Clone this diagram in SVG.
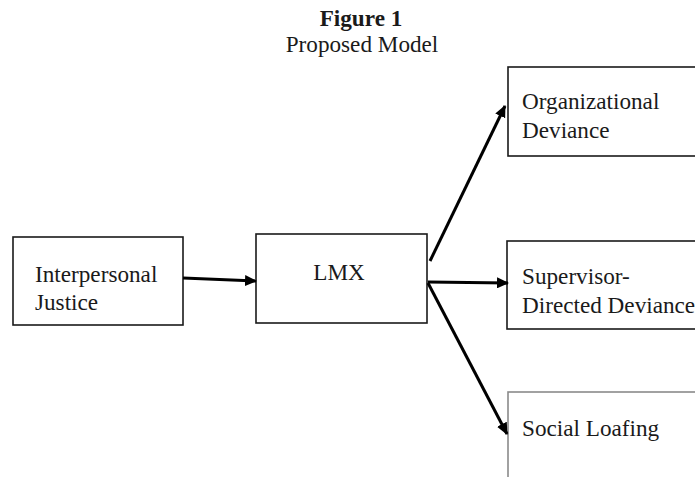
<svg xmlns="http://www.w3.org/2000/svg" width="695" height="477" viewBox="0 0 695 477">
<defs>
<style>
.box{fill:#fff;stroke:#1a1a1a;stroke-width:1.6}
.gbox{fill:#fff;stroke:#8a8a8a;stroke-width:1.6}
.t{font-family:"Liberation Serif","Times New Roman",serif;font-size:23.2px;fill:#1a1a1a}
.edge{stroke:#000;stroke-width:3;fill:none;marker-end:url(#ah)}
</style>
<marker id="ah" markerUnits="userSpaceOnUse" markerWidth="12" markerHeight="11" refX="11" refY="5.5" orient="auto">
<path d="M0,0 L12,5.5 L0,11 z" fill="#000"/>
</marker>
</defs>
<rect width="695" height="477" fill="#fff"/>
<g id="title">
<text class="t" x="361" y="26" text-anchor="middle" font-weight="bold">Figure 1</text>
<text class="t" x="362" y="52" text-anchor="middle">Proposed Model</text>
</g>
<g id="justice">
<rect class="box" x="13" y="237" width="170" height="88"/>
<text class="t" x="35" y="282">Interpersonal</text>
<text class="t" x="35" y="310">Justice</text>
</g>
<g id="lmx">
<rect class="box" x="256" y="234" width="171" height="89"/>
<text class="t" x="339" y="280" text-anchor="middle">LMX</text>
</g>
<g id="orgdev">
<rect class="box" x="508" y="67" width="200" height="89"/>
<text class="t" x="522" y="109">Organizational</text>
<text class="t" x="522" y="138">Deviance</text>
</g>
<g id="supdev">
<rect class="box" x="507" y="241" width="200" height="88"/>
<text class="t" x="522" y="284">Supervisor-</text>
<text class="t" x="522" y="313">Directed Deviance</text>
</g>
<g id="loafing">
<rect class="gbox" x="508" y="392" width="200" height="100"/>
<text class="t" x="522" y="436">Social Loafing</text>
</g>
<g id="connectors">
<line class="edge" x1="183" y1="278" x2="256" y2="281"/>
<line class="edge" x1="430" y1="261" x2="505" y2="106"/>
<line class="edge" x1="428" y1="282" x2="508" y2="283"/>
<line class="edge" x1="428" y1="283" x2="507" y2="434"/>
</g>
</svg>
